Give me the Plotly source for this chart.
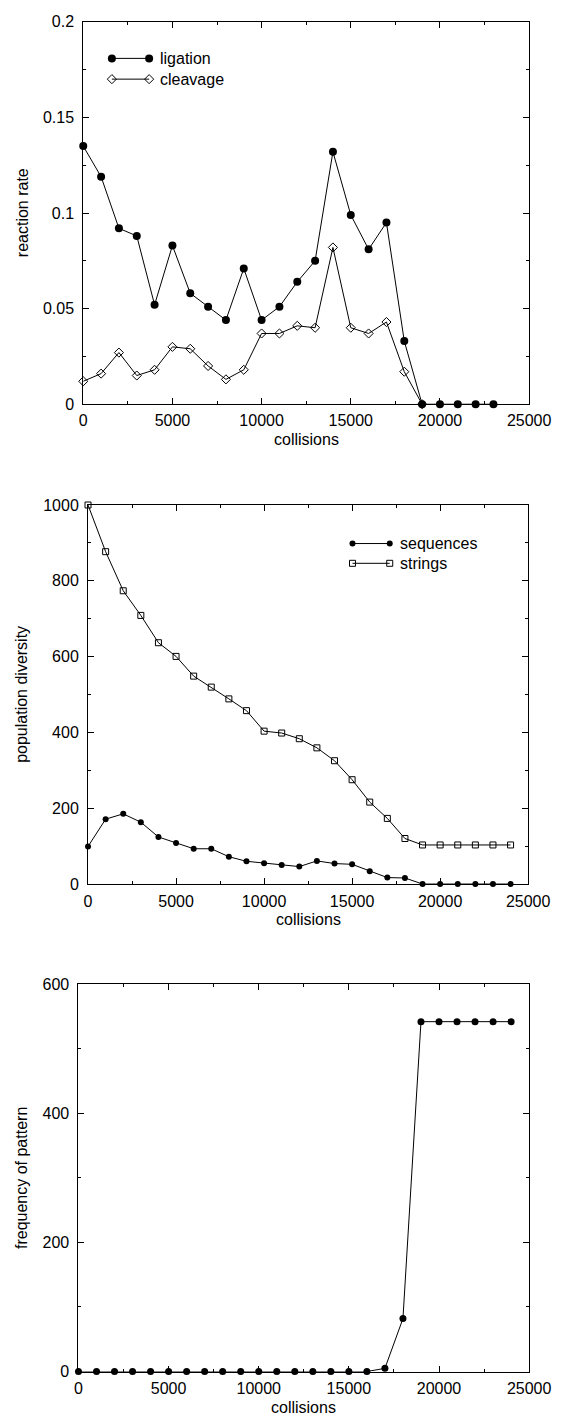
import plotly.graph_objects as go

W, H = 575, 1426
FONT = "Liberation Sans, Arial, Helvetica, sans-serif"

# ---- panel 1: reaction rates ----
steps_rate = [0, 1000, 2000, 3000, 4000, 5000, 6000, 7000, 8000, 9000, 10000, 11000,
              12000, 13000, 14000, 15000, 16000, 17000, 18000, 19000, 20000, 21000,
              22000, 23000]
ligation = [0.135, 0.119, 0.092, 0.088, 0.052, 0.083, 0.058, 0.051, 0.044, 0.071, 0.044,
            0.051, 0.064, 0.075, 0.132, 0.099, 0.081, 0.095, 0.033, 0.0, 0.0, 0.0, 0.0, 0.0]
steps_cleave = [0, 1000, 2000, 3000, 4000, 5000, 6000, 7000, 8000, 9000, 10000, 11000,
                12000, 13000, 14000, 15000, 16000, 17000, 18000, 19000]
cleavage = [0.012, 0.016, 0.027, 0.015, 0.018, 0.030, 0.029, 0.020, 0.013, 0.018, 0.037,
            0.037, 0.041, 0.040, 0.082, 0.040, 0.037, 0.043, 0.017, 0.0]

# ---- panel 2: population diversity ----
steps_div = [0, 1000, 2000, 3000, 4000, 5000, 6000, 7000, 8000, 9000, 10000, 11000, 12000,
             13000, 14000, 15000, 16000, 17000, 18000, 19000, 20000, 21000, 22000, 23000,
             24000]
sequences = [100, 172, 186, 164, 125, 109, 94, 94, 73, 61, 56, 51, 47, 62, 55, 53, 35, 18,
             17, 1, 1, 1, 1, 1, 1]
strings = [1000, 877, 774, 709, 637, 601, 549, 520, 489, 458, 404, 399, 384, 360, 326, 276,
           217, 174, 121, 104, 104, 104, 104, 104, 104]

# ---- panel 3: pattern frequency ----
steps_freq = steps_div
pattern_freq = [0, 0, 0, 0, 0, 0, 0, 0, 0, 0, 0, 0, 0, 0, 0, 0, 0, 5, 82, 542, 542, 542,
                542, 542, 542]


def px_x(p):
    return p / W


def px_y(p):
    return 1 - p / H


# plot-area boxes in pixels: left, right, top, bottom
boxes = {
    1: (83, 550, 14, 401),
    2: (88, 549, 503, 887),
    3: (78, 550, 988, 1380),
}

fig = go.Figure()

line = dict(color="black", width=1)

fig.add_trace(go.Scatter(x=steps_cleave, y=cleavage, mode="lines+markers", line=line,
                         marker=dict(symbol="diamond-open", size=7, color="black",
                                     line=dict(width=1, color="black")),
                         cliponaxis=False, xaxis="x", yaxis="y", showlegend=False))
fig.add_trace(go.Scatter(x=steps_rate, y=ligation, mode="lines+markers", line=line,
                         marker=dict(symbol="circle", size=8, color="black"),
                         cliponaxis=False, xaxis="x", yaxis="y", showlegend=False))

fig.add_trace(go.Scatter(x=steps_div, y=strings, mode="lines+markers", line=line,
                         marker=dict(symbol="square-open", size=6, color="black",
                                     line=dict(width=1, color="black")),
                         cliponaxis=False, xaxis="x2", yaxis="y2", showlegend=False))
fig.add_trace(go.Scatter(x=steps_div, y=sequences, mode="lines+markers", line=line,
                         marker=dict(symbol="circle", size=6, color="black"),
                         cliponaxis=False, xaxis="x2", yaxis="y2", showlegend=False))

fig.add_trace(go.Scatter(x=steps_freq, y=pattern_freq, mode="lines+markers", line=line,
                         marker=dict(symbol="circle", size=7, color="black"),
                         cliponaxis=False, xaxis="x3", yaxis="y3", showlegend=False))


def axis_common():
    return dict(showline=True, linecolor="black", linewidth=1, mirror="ticks",
                ticks="inside", ticklen=6, tickwidth=1, tickcolor="black",
                showgrid=False, zeroline=False, tickmode="linear", tick0=0,
                tickfont=dict(family=FONT, size=16, color="black"))


y_specs = {
    1: dict(range=[0, 0.2], dtick=0.05, minor=0.025, fmt=""),
    2: dict(range=[0, 1000], dtick=200, minor=100, fmt="d"),
    3: dict(range=[0, 600], dtick=200, minor=100, fmt="d"),
}
layout = {}
for i, (l, r, t, b) in boxes.items():
    sx = "" if i == 1 else str(i)
    xa = axis_common()
    xa.update(domain=[px_x(l), px_x(r)], range=[0, 25000], dtick=5000, tickformat="d",
              anchor="y" + sx, ticklabelstandoff=2,
              minor=dict(ticks="inside", ticklen=3, tickwidth=1, tickcolor="black",
                         dtick=2500, tick0=0, showgrid=False))
    spec = y_specs[i]
    ya = axis_common()
    ya.update(domain=[px_y(b), px_y(t)], range=spec["range"], dtick=spec["dtick"],
              tickformat=spec["fmt"], anchor="x" + sx, ticklabelstandoff=5,
              minor=dict(ticks="inside", ticklen=3, tickwidth=1, tickcolor="black",
                         dtick=spec["minor"], tick0=0, showgrid=False))
    layout["xaxis" + sx] = xa
    layout["yaxis" + sx] = ya

# pixel-space overlay axes that carry the legend keys
layout["xaxis4"] = dict(domain=[0, 1], range=[0, W], visible=False, fixedrange=True,
                        anchor="y4")
layout["yaxis4"] = dict(domain=[0, 1], range=[H, 0], visible=False, fixedrange=True,
                        anchor="x4")

legend_keys = [
    (113, 152, 51, "ligation", dict(symbol="circle", size=8, color="black")),
    (113, 152, 72, "cleavage", dict(symbol="diamond-open", size=7, color="black",
                                    line=dict(width=1, color="black"))),
    (365, 404, 542, "sequences", dict(symbol="circle", size=6, color="black")),
    (365, 404, 562, "strings", dict(symbol="square-open", size=6, color="black",
                                    line=dict(width=1, color="black"))),
]
annotations = []
for x0, x1, yk, label, mk in legend_keys:
    fig.add_trace(go.Scatter(x=[x0, x1], y=[yk, yk], mode="lines+markers", line=line,
                             marker=mk, xaxis="x4", yaxis="y4", showlegend=False,
                             cliponaxis=False, hoverinfo="skip"))
    annotations.append(dict(text=label, x=px_x(x1 + 9), y=px_y(yk), xref="paper",
                            yref="paper", xanchor="left", yanchor="middle",
                            showarrow=False, font=dict(family=FONT, size=16,
                                                       color="black")))

# axis titles
y_titles = {1: "reaction rate", 2: "population diversity", 3: "frequency of pattern"}
for i, (l, r, t, b) in boxes.items():
    annotations.append(dict(text="collisions", x=px_x((l + r) / 2), y=px_y(b + 36),
                            xref="paper", yref="paper", xanchor="center",
                            yanchor="middle", showarrow=False,
                            font=dict(family=FONT, size=16, color="black")))
    annotations.append(dict(text=y_titles[i], x=px_x(19), y=px_y((t + b) / 2),
                            xref="paper", yref="paper", xanchor="center",
                            yanchor="middle", textangle=-90, showarrow=False,
                            font=dict(family=FONT, size=16, color="black")))

fig.update_layout(width=W, height=H, margin=dict(l=0, r=0, t=0, b=0),
                  paper_bgcolor="white", plot_bgcolor="rgba(0,0,0,0)",
                  annotations=annotations, **layout)

fig.write_html("out.html")
